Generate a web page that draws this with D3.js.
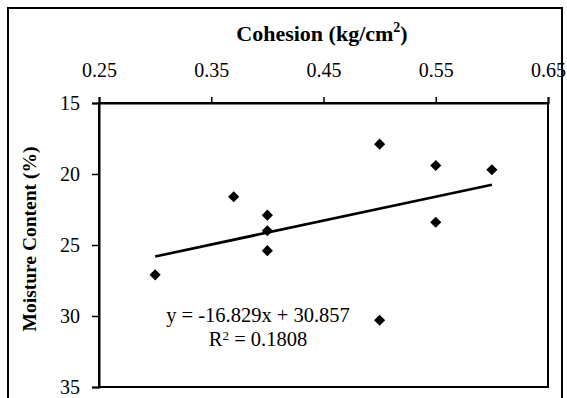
<!DOCTYPE html>
<html>
<head>
<meta charset="utf-8">
<script src="https://cdn.jsdelivr.net/npm/d3@7"></script>
<style>
  body { margin: 0; background: #fff; }
  svg { display: block; font-family: "Liberation Serif", "Times New Roman", serif; }
</style>
</head>
<body>
<svg id="chart" width="567" height="398"></svg>
<script>
// données
var cohesion = [0.30, 0.37, 0.40, 0.40, 0.40, 0.50, 0.50, 0.55, 0.55, 0.60];
var moisture = [27.1, 21.6, 22.9, 24.0, 25.4, 17.9, 30.3, 19.4, 23.4, 19.7];
var xTicks = [0.25, 0.35, 0.45, 0.55, 0.65];
var yTicks = [15, 20, 25, 30, 35];
// droite de tendance affichée
var slope = -16.829, intercept = 30.857, r2 = 0.1808;
var trendX = [0.30, 0.60];

var svg = d3.select("#chart");

var plot = {left: 99, right: 548, top: 103, bottom: 387};

var xScale = d3.scaleLinear().domain([0.25, 0.65]).range([plot.left, plot.right]);
var yScale = d3.scaleLinear().domain([15, 35]).range([plot.top, plot.bottom]);

// cadre de la zone de tracé
svg.append("rect")
    .attr("x", plot.left).attr("y", plot.top)
    .attr("width", plot.right - plot.left).attr("height", plot.bottom - plot.top)
    .attr("fill", "#fff").attr("stroke", "#000").attr("stroke-width", 2);

// axe du haut
var xAxis = g => g
    .attr("transform", `translate(0, ${plot.top})`)
    .call(d3.axisTop(xScale).tickValues(xTicks).tickFormat(d3.format(".2f")).tickSizeOuter(0).tickSize(6).tickPadding(20));

var yAxis = g => g
    .attr("transform", `translate(${plot.left}, 0)`)
    .call(d3.axisLeft(yScale).tickValues(yTicks).tickSizeOuter(0).tickSize(7).tickPadding(12));

svg.append("g").call(xAxis);
svg.append("g").call(yAxis);

svg.selectAll(".domain").attr("stroke-width", 2);
svg.selectAll(".tick line").attr("stroke-width", 1.5);
svg.selectAll(".tick text")
    .attr("font-family", "Liberation Serif, serif")
    .attr("font-size", 20)
    .attr("fill", "#000");

// titre de l'axe x
var title = svg.append("text")
    .attr("x", 322)
    .attr("y", 41)
    .attr("text-anchor", "middle")
    .attr("font-weight", "bold")
    .attr("font-size", 22);
title.append("tspan").text("Cohesion (kg/cm");
title.append("tspan").attr("font-size", 14).attr("dy", -9).text("2");
title.append("tspan").attr("dy", 9).text(")");

// titre de l'axe y
svg.append("text")
    .attr("transform", `translate(36, ${(plot.top + plot.bottom) / 2 - 6}) rotate(-90)`)
    .attr("text-anchor", "middle")
    .attr("font-weight", "bold")
    .attr("font-size", 19.5)
    .text("Moisture Content (%)");

// droite de tendance
svg.append("line")
    .attr("x1", xScale(trendX[0])).attr("y1", yScale(slope * trendX[0] + intercept))
    .attr("x2", xScale(trendX[1])).attr("y2", yScale(slope * trendX[1] + intercept))
    .attr("stroke", "#000").attr("stroke-width", 2.7);

// points
svg.selectAll("path.pt")
    .data(cohesion)
    .enter()
    .append("path")
    .attr("class", "pt")
    .attr("d", d3.symbol(d3.symbolSquare, 62))
    .attr("transform", (d, i) => `translate(${xScale(d)}, ${yScale(moisture[i])}) rotate(45)`)
    .attr("fill", "#000");

// équation
svg.append("text")
    .attr("x", 258).attr("y", 322)
    .attr("text-anchor", "middle")
    .attr("font-size", 20.5)
    .text("y = " + slope + "x + " + intercept);

var r2Text = svg.append("text")
    .attr("x", 258).attr("y", 346)
    .attr("text-anchor", "middle")
    .attr("font-size", 20.5);
r2Text.append("tspan").text("R");
r2Text.append("tspan").attr("font-size", 13).attr("dy", -6).text("2");
r2Text.append("tspan").attr("dy", 6).text(" = " + r2);

// cadre extérieur
svg.append("rect")
    .attr("x", 8).attr("y", 8)
    .attr("width", 554).attr("height", 400)
    .attr("fill", "none").attr("stroke", "#000").attr("stroke-width", 2);
</script>
</body>
</html>
